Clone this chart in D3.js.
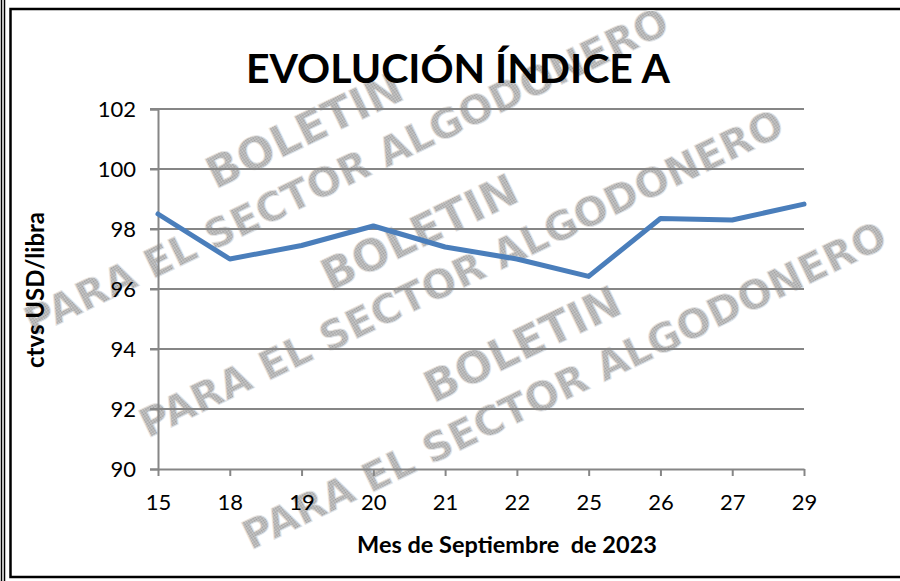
<!DOCTYPE html>
<html>
<head>
<meta charset="utf-8">
<script src="https://cdn.jsdelivr.net/npm/d3@7"></script>
<style>
  html, body { margin: 0; padding: 0; background: #ffffff; }
  svg { display: block; }
</style>
</head>
<body>
<svg id="chart" width="900" height="581"></svg>
<script>
// ---- data ----
const categories = ["15", "18", "19", "20", "21", "22", "25", "26", "27", "29"];
const values = [98.5, 97.0, 97.45, 98.1, 97.4, 97.0, 96.42, 98.35, 98.3, 98.83];
const yTicks = [90, 92, 94, 96, 98, 100, 102];
const titleText = "EVOLUCIÓN ÍNDICE A";
const xTitle = "Mes de Septiembre  de 2023";
const yTitle = "ctvs USD/libra";
const watermarkLines = ["BOLETIN", "PARA EL SECTOR ALGODONERO"];

const svg = d3.select("#chart");

// halftone-like pattern for the watermark
const defs = svg.append("defs");
const pat = defs.append("pattern").attr("id", "dots")
  .attr("width", 2).attr("height", 2).attr("patternUnits", "userSpaceOnUse");
pat.append("rect").attr("width", 2).attr("height", 2).attr("fill", "#d0d0d0");
pat.append("rect").attr("width", 1).attr("height", 1).attr("fill", "#9a9a9a");
pat.append("rect").attr("x", 1).attr("y", 1).attr("width", 1).attr("height", 1).attr("fill", "#a4a4a4");

// frame
svg.append("line").attr("x1", 1.5).attr("x2", 1.5).attr("y1", 0).attr("y2", 581)
  .attr("stroke", "#000").attr("stroke-width", 1.5);
svg.append("line").attr("x1", 4.5).attr("x2", 4.5).attr("y1", 0).attr("y2", 581)
  .attr("stroke", "#000").attr("stroke-width", 1.5);
svg.append("rect").attr("x", 10.5).attr("y", 9).attr("width", 900).attr("height", 568)
  .attr("fill", "none").attr("stroke", "#000").attr("stroke-width", 2.5);

// watermark (behind chart)
const wmCenters = [[335, 148], [450, 250], [553, 362]];
wmCenters.forEach(c => {
  const g = svg.append("g").attr("transform", `translate(${c[0]},${c[1]}) rotate(-25.5)`);
  g.append("text").attr("x", -20).attr("y", -14)
    .attr("text-anchor", "middle")
    .attr("font-family", "DejaVu Sans").attr("font-weight", "bold").attr("font-size", 44)
    .attr("fill", "url(#dots)").attr("stroke", "#e6e6e6").attr("stroke-width", 0.8)
    .text(watermarkLines[0]);
  g.append("text").attr("x", 0).attr("y", 40)
    .attr("text-anchor", "middle")
    .attr("font-family", "DejaVu Sans").attr("font-weight", "bold").attr("font-size", 40)
    .attr("textLength", 708).attr("lengthAdjust", "spacingAndGlyphs")
    .attr("fill", "url(#dots)").attr("stroke", "#e6e6e6").attr("stroke-width", 0.8)
    .text(watermarkLines[1]);
});

// scales
const x = d3.scalePoint().domain(categories).range([158, 804]);
const y = d3.scaleLinear().domain([90, 102]).range([469, 109]);

// gridlines
svg.append("g").selectAll("line").data(yTicks.filter(d => d !== 90)).join("line")
  .attr("x1", 150).attr("x2", 804)
  .attr("y1", d => y(d)).attr("y2", d => y(d))
  .attr("stroke", "#868686").attr("stroke-width", 2);

// y axis
const yAxis = svg.append("g").attr("transform", "translate(158,0)")
  .call(d3.axisLeft(y).tickValues(yTicks).tickSize(8).tickPadding(14).tickFormat(d3.format("d")));
yAxis.select(".domain").attr("stroke", "#868686").attr("stroke-width", 2);
yAxis.selectAll(".tick line").attr("stroke", "#868686").attr("stroke-width", 2);
yAxis.selectAll("text").attr("font-family", "Lato").attr("font-size", 22).attr("fill", "#000");

// x axis
const xAxis = svg.append("g").attr("transform", "translate(0,469)")
  .call(d3.axisBottom(x).tickSize(7).tickSizeOuter(0).tickPadding(18));
xAxis.select(".domain").attr("stroke", "#868686").attr("stroke-width", 2);
xAxis.selectAll(".tick line").attr("stroke", "#868686").attr("stroke-width", 2);
xAxis.selectAll("text").attr("font-family", "Lato").attr("font-size", 22).attr("fill", "#000");

// series line
const line = d3.line().x((d, i) => x(categories[i])).y(d => y(d));
svg.append("path").datum(values)
  .attr("d", line)
  .attr("fill", "none").attr("stroke", "#4a7ebb").attr("stroke-width", 5)
  .attr("stroke-linejoin", "round").attr("stroke-linecap", "round");

// titles
svg.append("text").attr("x", 458).attr("y", 83)
  .attr("text-anchor", "middle")
  .attr("font-family", "Lato").attr("font-weight", "bold").attr("font-size", 41)
  .attr("fill", "#000").text(titleText);

svg.append("text").attr("x", 507).attr("y", 553)
  .attr("text-anchor", "middle").attr("xml:space", "preserve").style("white-space", "pre")
  .attr("font-family", "Lato").attr("font-weight", "bold").attr("font-size", 23.5)
  .attr("fill", "#000").text(xTitle);

svg.append("text").attr("transform", "translate(44,290) rotate(-90)")
  .attr("text-anchor", "middle")
  .attr("font-family", "Lato").attr("font-weight", "bold").attr("font-size", 24)
  .attr("fill", "#000").text(yTitle);
</script>
</body>
</html>
